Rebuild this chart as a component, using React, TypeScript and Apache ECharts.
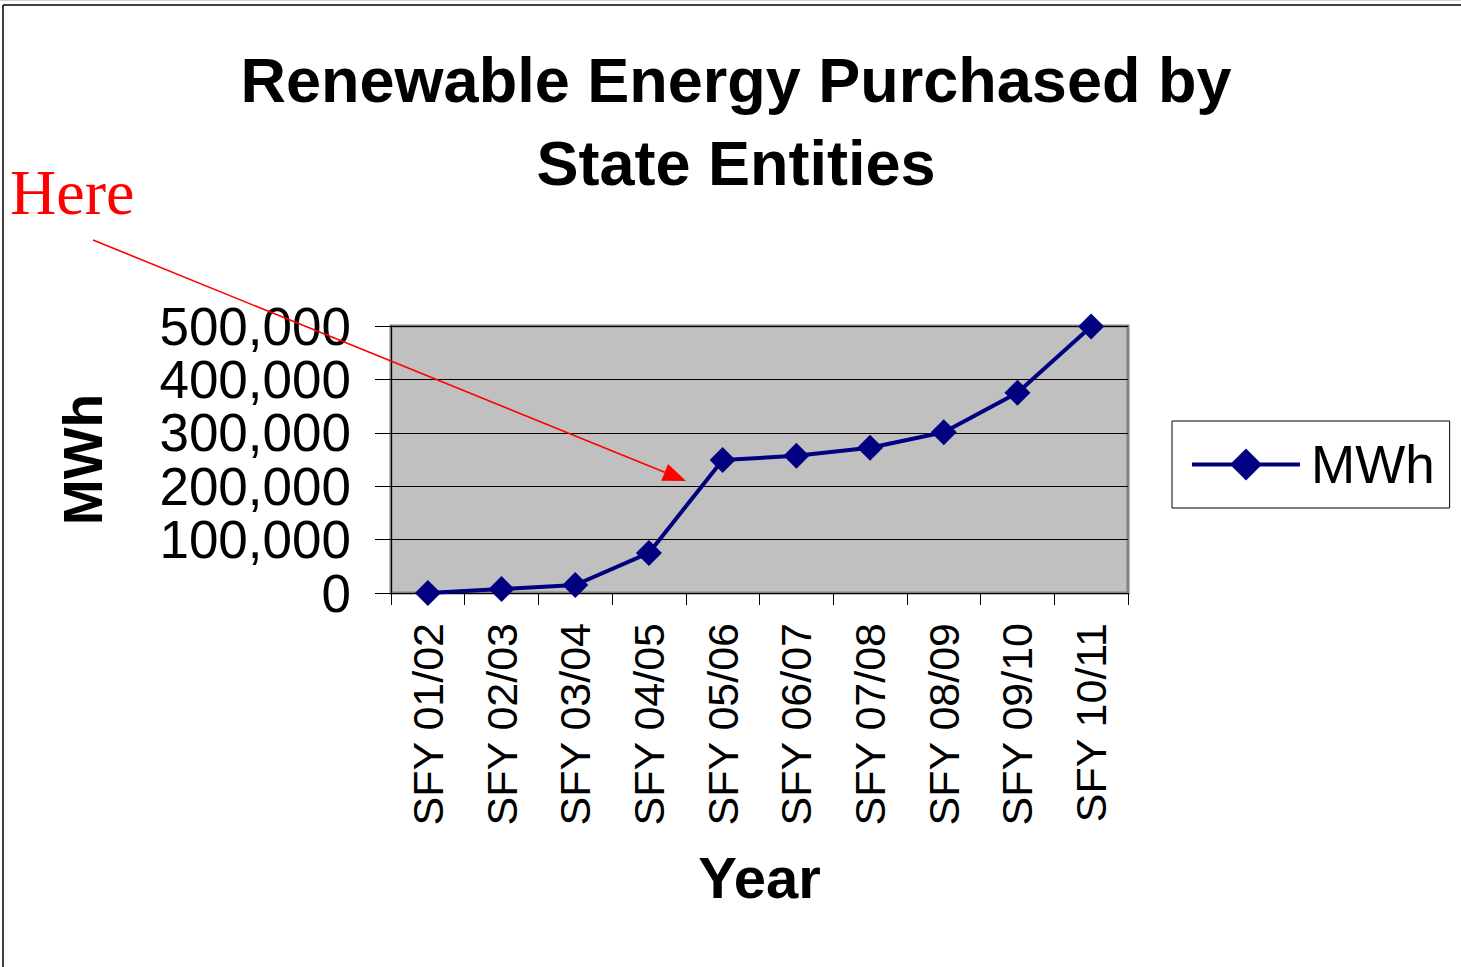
import React, { useEffect, useRef } from "react";
import * as echarts from "echarts";

const categories = [
  "SFY 01/02",
  "SFY 02/03",
  "SFY 03/04",
  "SFY 04/05",
  "SFY 05/06",
  "SFY 06/07",
  "SFY 07/08",
  "SFY 08/09",
  "SFY 09/10",
  "SFY 10/11",
];
const mwhValues = [0, 7500, 15000, 75000, 249000, 257000, 272000, 301000, 375000, 499000];
const seriesName = "MWh";
const titleLines = ["Renewable Energy Purchased by", "State Entities"];
const yAxisName = "MWh";
const xAxisName = "Year";
const annotationText = "Here";

const SANS = 'Arial, "Liberation Sans", Helvetica, sans-serif';
const SERIF = '"Times New Roman", "Liberation Serif", serif';

export default function App() {
  const ref = useRef<HTMLDivElement>(null);

  useEffect(() => {
    if (!ref.current) return;
    const chart = echarts.init(ref.current, null, { renderer: "svg" });

    // arrow geometry for the free-drawn annotation
    const start = [93, 240];
    const tip = [686, 481];
    const dx = tip[0] - start[0];
    const dy = tip[1] - start[1];
    const len = Math.sqrt(dx * dx + dy * dy);
    const ux = dx / len;
    const uy = dy / len;
    const headLen = 23;
    const headHalf = 9;
    const bx = tip[0] - ux * headLen;
    const by = tip[1] - uy * headLen;

    chart.setOption({
      animation: false,
      backgroundColor: "#ffffff",
      textStyle: { fontFamily: SANS, color: "#000" },
      title: {
        text: titleLines.join("\n"),
        left: 731,
        textAlign: "center",
        top: 33,
        textStyle: {
          fontFamily: SANS,
          fontSize: 63,
          fontWeight: "bold",
          color: "#000",
          lineHeight: 83,
        },
      },
      legend: {
        show: true,
        data: [seriesName],
        left: 1172,
        top: 421,
        orient: "vertical",
        borderColor: "#000",
        borderWidth: 1,
        backgroundColor: "#fff",
        padding: [17, 15, 17, 18],
        itemWidth: 108,
        itemHeight: 40,
        itemGap: 0,
        lineStyle: { width: 4, color: "#000080" },
        textStyle: { fontFamily: SANS, fontSize: 53, color: "#000", padding: [0, 0, 0, 6] },
      },
      grid: {
        left: 391,
        right: 333,
        top: 326,
        bottom: 374,
        show: true,
        backgroundColor: "#C0C0C0",
        borderColor: "#808080",
        borderWidth: 3,
        containLabel: false,
      },
      xAxis: {
        type: "category",
        data: categories,
        boundaryGap: true,
        name: xAxisName,
        nameLocation: "middle",
        nameGap: 255,
        nameTextStyle: { fontFamily: SANS, fontSize: 58, fontWeight: "bold", color: "#000" },
        axisLine: { show: true, lineStyle: { color: "#000", width: 1 } },
        axisTick: { show: true, alignWithLabel: false, length: 12, inside: false, lineStyle: { color: "#000" } },
        axisLabel: {
          rotate: 90,
          margin: 30,
          interval: 0,
          fontFamily: SANS,
          fontSize: 43,
          color: "#000",
        },
        splitLine: { show: false },
      },
      yAxis: {
        type: "value",
        min: 0,
        max: 500000,
        interval: 100000,
        name: yAxisName,
        nameLocation: "middle",
        nameGap: 281,
        nameRotate: 90,
        nameTextStyle: { fontFamily: SANS, fontSize: 55, fontWeight: "bold", color: "#000" },
        axisLine: { show: true, lineStyle: { color: "#000", width: 1 } },
        axisTick: { show: true, length: 16, inside: false, lineStyle: { color: "#000" } },
        axisLabel: {
          margin: 40,
          fontFamily: SANS,
          fontSize: 53,
          color: "#000",
          showMinLabel: true,
          showMaxLabel: true,
          formatter: (v: number) => v.toLocaleString("en-US"),
        },
        splitLine: { show: true, lineStyle: { color: "#000", width: 1 } },
      },
      series: [
        {
          name: seriesName,
          type: "line",
          data: mwhValues,
          symbol: "diamond",
          symbolSize: 26,
          showSymbol: true,
          lineStyle: { color: "#000080", width: 4 },
          itemStyle: { color: "#000080" },
          z: 3,
        },
      ],
      graphic: [
        {
          type: "line",
          shape: { x1: 0, y1: 0.5, x2: 1461, y2: 0.5 },
          style: { stroke: "#d0d0d0", lineWidth: 1 },
          z: 100,
        },
        {
          type: "line",
          shape: { x1: 3, y1: 5, x2: 1461, y2: 5 },
          style: { stroke: "#000", lineWidth: 1.5 },
          z: 100,
        },
        {
          type: "line",
          shape: { x1: 3, y1: 5, x2: 3, y2: 967 },
          style: { stroke: "#000", lineWidth: 1.5 },
          z: 100,
        },
        {
          type: "text",
          left: 10,
          top: 160,
          style: {
            text: annotationText,
            fill: "#ff0000",
            font: `64px ${SERIF}`,
          },
          z: 100,
        },
        {
          type: "line",
          shape: { x1: start[0], y1: start[1], x2: bx, y2: by },
          style: { stroke: "#ff0000", lineWidth: 1.6 },
          z: 100,
        },
        {
          type: "polygon",
          shape: {
            points: [
              [tip[0], tip[1]],
              [bx - uy * headHalf, by + ux * headHalf],
              [bx + uy * headHalf, by - ux * headHalf],
            ],
          },
          style: { fill: "#ff0000" },
          z: 100,
        },
      ],
    });

    return () => chart.dispose();
  }, []);

  return (
    <div
      ref={ref}
      style={{ position: "fixed", left: 0, top: 0, width: 1461, height: 967, background: "#fff" }}
    />
  );
}
